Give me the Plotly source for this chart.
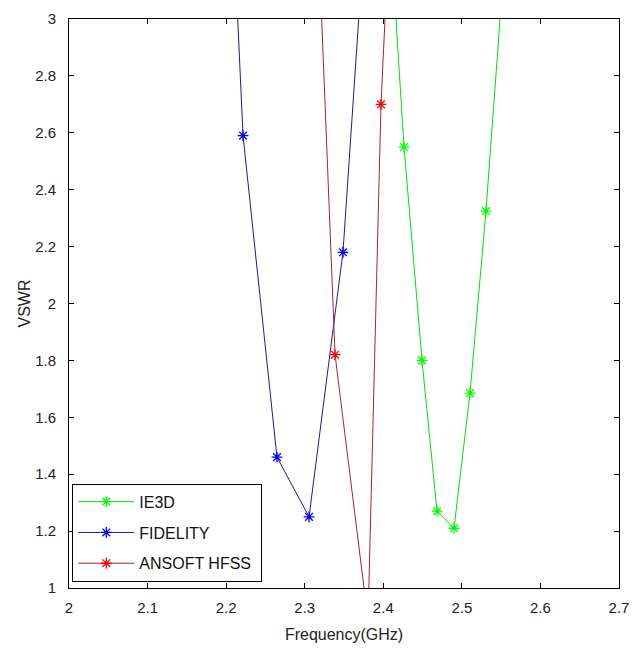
import plotly.graph_objects as go

# Data (points beyond the axes keep the line direction)
ie3d_f = [2.405, 2.4264, 2.4493, 2.4684, 2.49, 2.5104, 2.5307, 2.551]
ie3d_v = [3.49, 2.55, 1.80, 1.27, 1.21, 1.685, 2.325, 3.09]

fid_f = [2.18, 2.2215, 2.2647, 2.3055, 2.3487, 2.39]
fid_v = [5.09, 2.59, 1.46, 1.25, 2.18, 3.87]

hfss_f = [2.30, 2.3386, 2.3806, 2.3971, 2.42]
hfss_v = [4.50, 1.82, 0.887, 2.70, 4.05]

x_ticks = [2, 2.1, 2.2, 2.3, 2.4, 2.5, 2.6, 2.7]
x_labels = ["2", "2.1", "2.2", "2.3", "2.4", "2.5", "2.6", "2.7"]
y_ticks = [1, 1.2, 1.4, 1.6, 1.8, 2, 2.2, 2.4, 2.6, 2.8, 3]
y_labels = ["1", "1.2", "1.4", "1.6", "1.8", "2", "2.2", "2.4", "2.6", "2.8", "3"]

font = "Liberation Sans, Arial, sans-serif"

fig = go.Figure()
series = [
    ("IE3D", ie3d_f, ie3d_v, "#00ff00", "#00e000"),
    ("FIDELITY", fid_f, fid_v, "#0000ff", "#1a1aa0"),
    ("ANSOFT HFSS\u00a0", hfss_f, hfss_v, "#ff0000", "#b02020"),
]
for i, (name, f, v, mcol, lcol) in enumerate(series):
    fig.add_trace(go.Scatter(
        x=f, y=v, name=name, mode="lines+markers",
        legendgroup=f"g{i}",
        line=dict(color=lcol, width=1),
        marker=dict(symbol="asterisk-open", size=9, color=mcol,
                    line=dict(color=mcol, width=1.3)),
    ))

axis_common = dict(
    showgrid=False, zeroline=False, showline=True, linecolor="black",
    linewidth=1, mirror="ticks", ticks="inside", ticklen=5,
    tickcolor="black", automargin=False,
    tickfont=dict(family=font, size=15, color="#222"),
)

fig.update_layout(
    width=644, height=650,
    margin=dict(l=69, r=25, t=19, b=62, autoexpand=False),
    paper_bgcolor="white", plot_bgcolor="white",
    font=dict(family=font, size=15, color="#222"),
    xaxis=dict(range=[2, 2.7], tickvals=x_ticks, ticktext=x_labels,
               ticklabelstandoff=6,
               title=dict(text="Frequency(GHz)", standoff=13,
                          font=dict(family=font, size=16)),
               **axis_common),
    yaxis=dict(range=[1, 3], tickvals=y_ticks, ticktext=y_labels,
               ticklabelstandoff=9,
               title=dict(text="VSWR", standoff=0,
                          font=dict(family=font, size=16)),
               **axis_common),
    legend=dict(x=0.006, y=0.011, xanchor="left", yanchor="bottom",
                bgcolor="white", bordercolor="black", borderwidth=1,
                traceorder="grouped", tracegroupgap=7,
                font=dict(family=font, size=16, color="#111"),
                itemwidth=56),
    showlegend=True,
)

fig.write_html(
    "out.html",
    config={"displayModeBar": False},
    post_script="document.body.style.margin='0';document.body.style.overflow='hidden';",
)
